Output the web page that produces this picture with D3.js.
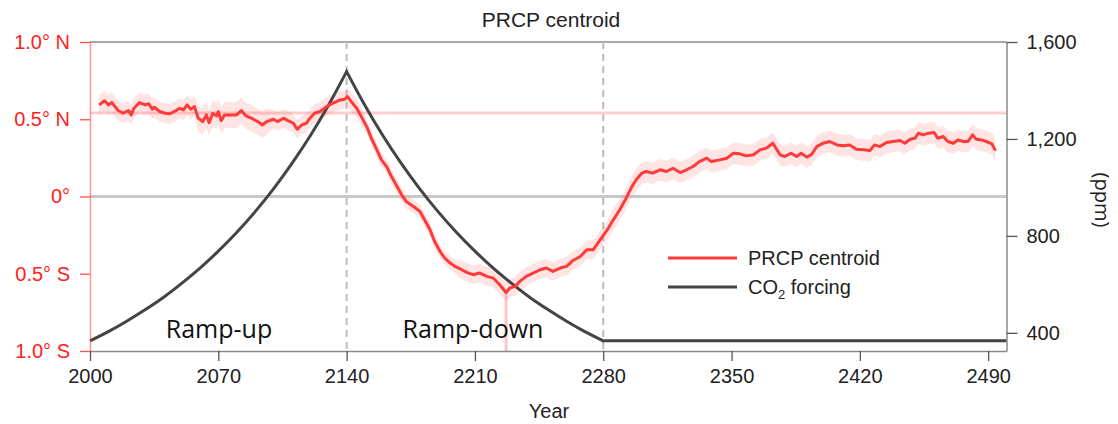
<!DOCTYPE html>
<html>
<head>
<meta charset="utf-8">
<script src="https://cdn.jsdelivr.net/npm/d3@7"></script>
<style>
body{margin:0;background:#fff;}
svg{display:block;font-family:"Liberation Sans",Arial,sans-serif;}
</style>
</head>
<body>
<svg id="chart" width="1118" height="424"></svg>
<script>
// centroid latitude (deg, + = N), 10-yr running mean
const latYears = [2005,2008,2010,2012,2015,2018,2021,2022.5,2024,2027,2030,2032,2034,2035,2038,2041,2043.5,2046,2049,2051,2053,2055,2057,2059,2061.5,2063.5,2065,2067,2069,2070,2071.5,2073.5,2077,2080,2082.5,2085,2088,2091.5,2094,2096.5,2100,2102.5,2105.5,2108,2111,2113,2115.5,2118,2120,2122.5,2125.5,2129,2132.5,2136.5,2139,2140.5,2142.5,2145.5,2148,2151,2153.5,2156.5,2159,2162,2164.5,2167.5,2170,2172.5,2176.5,2180,2182.5,2185.5,2188,2191,2193.5,2196.5,2199,2202,2205.5,2209,2212.5,2216.5,2220,2223.5,2227,2229,2232,2234.5,2238,2242,2245.5,2249,2252.5,2256.5,2260,2263.5,2267.5,2271,2274.5,2278,2282,2285.5,2289,2292.5,2295.5,2298,2301,2303.5,2307,2311,2314.5,2318,2322,2325.5,2329,2332.5,2336.5,2339,2343.5,2347.5,2351,2354.5,2358,2362,2365.5,2369,2372.5,2376.5,2379,2382.5,2385.5,2388,2391,2393.5,2396.5,2400,2403.5,2407.5,2411,2414.5,2418,2422,2425.5,2428,2431,2434.5,2438,2442,2444.5,2447.5,2450,2452,2454.5,2457.5,2460.5,2462.5,2465.5,2468,2471,2473.5,2476.5,2479,2481.5,2483.5,2486.5,2489,2492,2494];
const latValues = [0.593,0.62,0.593,0.608,0.56,0.539,0.556,0.528,0.571,0.608,0.593,0.6,0.565,0.578,0.55,0.539,0.535,0.55,0.571,0.56,0.593,0.565,0.582,0.507,0.485,0.528,0.478,0.539,0.522,0.55,0.491,0.528,0.528,0.528,0.556,0.522,0.507,0.485,0.463,0.485,0.5,0.485,0.507,0.491,0.474,0.435,0.463,0.474,0.507,0.539,0.55,0.582,0.604,0.625,0.63,0.646,0.614,0.571,0.517,0.452,0.377,0.302,0.237,0.19,0.129,0.065,0.011,-0.032,-0.065,-0.097,-0.151,-0.215,-0.291,-0.356,-0.398,-0.431,-0.452,-0.469,-0.491,-0.506,-0.495,-0.517,-0.528,-0.571,-0.621,-0.592,-0.582,-0.549,-0.517,-0.495,-0.474,-0.463,-0.485,-0.463,-0.452,-0.414,-0.388,-0.345,-0.345,-0.285,-0.22,-0.151,-0.086,-0.011,0.061,0.108,0.151,0.162,0.151,0.173,0.162,0.183,0.155,0.173,0.194,0.226,0.248,0.226,0.237,0.248,0.28,0.276,0.263,0.27,0.302,0.313,0.345,0.27,0.259,0.28,0.259,0.28,0.255,0.27,0.323,0.345,0.356,0.334,0.328,0.334,0.306,0.302,0.297,0.334,0.323,0.349,0.356,0.362,0.345,0.371,0.377,0.41,0.399,0.41,0.414,0.377,0.388,0.356,0.345,0.366,0.356,0.356,0.399,0.371,0.366,0.356,0.341,0.297];
// half-width of the shaded spread, by period start
const bandStart = [2005,2058,2100,2150,2200,2285];
const bandHalf = [0.065,0.085,0.06,0.045,0.06,0.07];
// CO2 forcing (ppm), one list per phase
const co2Years = [2000,2010,2020,2030,2040,2050,2060,2070,2080,2090,2100,2110,2120,2130,2140,2150,2160,2170,2180,2190,2200,2210,2220,2230,2240,2250,2260,2270,2280,2500];
const co2Values = [367,405,448,495,546,604,667,737,814,899,993,1097,1211,1338,1478,1338,1211,1097,993,899,814,737,667,604,546,495,448,405,367,367];
const xTicks = [2000,2070,2140,2210,2280,2350,2420,2490];
const latTicks = [-1,-0.5,0,0.5,1];
const latLabels = ['1.0° S','0.5° S','0°','0.5° N','1.0° N'];
const ppmTicks = [400,800,1200,1600];
const phaseYears = [2140,2280];
const baselineLat = 0.54;

const red = '#ff3a3a', dark = '#444', axisGray = '#8a8a8a';
const svg = d3.select('#chart');
const L = 90, R = 1006.5, T = 42, B = 351;

let x = d3.scaleLinear().domain([2000,2500]).range([L,R]);
let yLat = d3.scaleLinear().domain([-1,1]).range([B,T]);
let yPpm = d3.scaleLinear().domain([325,1600]).range([B,T]);

let lat = latYears.map((yr,i)=>({yr:yr, v:latValues[i]}));
let co2 = co2Years.map((yr,i)=>({yr:yr, v:co2Values[i]}));
function halfAt(yr){
    let i = d3.bisectRight(bandStart, yr) - 1;
    return bandHalf[Math.max(0,i)];
}

// frame top
svg.append('line').attr('x1',L).attr('x2',R).attr('y1',T).attr('y2',T)
    .attr('stroke',axisGray).attr('stroke-width',1.5);

// zero line and baseline
svg.append('line').attr('x1',L).attr('x2',R).attr('y1',yLat(0)).attr('y2',yLat(0))
    .attr('stroke','#c8c8c8').attr('stroke-width',3);
svg.append('line').attr('x1',L).attr('x2',R).attr('y1',yLat(baselineLat)).attr('y2',yLat(baselineLat))
    .attr('stroke','rgba(255,90,90,0.3)').attr('stroke-width',3);

// phase lines
svg.selectAll('.phase').data(phaseYears).join('line').attr('class','phase')
    .attr('x1',d=>x(d)).attr('x2',d=>x(d)).attr('y1',T).attr('y2',B)
    .attr('stroke','#bdbdbd').attr('stroke-width',2).attr('stroke-dasharray','7,5');

// minimum marker
let minPt = d3.least(lat, d=>d.v);
svg.append('line').attr('x1',x(minPt.yr)).attr('x2',x(minPt.yr)).attr('y1',yLat(minPt.v)).attr('y2',B)
    .attr('stroke','rgba(255,90,90,0.35)').attr('stroke-width',3);

// spread band
let area = d3.area().x(d=>x(d.yr)).y0(d=>yLat(d.v-halfAt(d.yr))).y1(d=>yLat(d.v+halfAt(d.yr)));
svg.append('path').datum(lat).attr('d',area).attr('fill','rgba(255,120,120,0.2)');

// CO2 curve: smooth within each phase, sharp corners between phases
let co2Line = d3.line().x(d=>x(d.yr)).y(d=>yPpm(d.v)).curve(d3.curveMonotoneX);
let cuts = [2000].concat(phaseYears).concat([2500]);
let co2Path = '';
for(let i=0;i<cuts.length-1;i++){
    let seg = co2.filter(d=>d.yr>=cuts[i] && d.yr<=cuts[i+1]);
    let p = co2Line(seg);
    co2Path += i==0 ? p : 'L' + p.slice(1);
}
svg.append('path').attr('d',co2Path).attr('fill','none')
    .attr('stroke',dark).attr('stroke-width',3).attr('stroke-linejoin','miter');

// centroid curve
let latLine = d3.line().x(d=>x(d.yr)).y(d=>yLat(d.v));
svg.append('path').datum(lat).attr('d',latLine).attr('fill','none')
    .attr('stroke',red).attr('stroke-width',3).attr('stroke-linejoin','round');

// x axis
let gx = svg.append('g').attr('transform',`translate(0,${B})`)
    .call(d3.axisBottom(x).tickValues(xTicks).tickFormat(d3.format('d')).tickSize(10).tickSizeOuter(0).tickPadding(8));
gx.select('.domain').attr('stroke',axisGray).attr('stroke-width',1.5);
gx.selectAll('.tick line').attr('stroke','#555').attr('stroke-width',1.3);
gx.selectAll('.tick text').attr('font-size',20).attr('fill','#222').attr('font-family','"Liberation Sans",Arial,sans-serif');

// left axis
let gl = svg.append('g').attr('transform',`translate(${L},0)`)
    .call(d3.axisLeft(yLat).tickValues(latTicks).tickFormat((d,i)=>latLabels[i]).tickSize(10).tickSizeOuter(0).tickPadding(10));
gl.select('.domain').attr('stroke','rgba(255,60,60,0.55)').attr('stroke-width',1.5);
gl.selectAll('.tick line').attr('stroke','#ff5050').attr('stroke-width',1.3);
gl.selectAll('.tick text').attr('font-size',20).attr('fill','#ff2020').attr('font-family','"Liberation Sans",Arial,sans-serif');

// right axis
let gr = svg.append('g').attr('transform',`translate(${R},0)`)
    .call(d3.axisRight(yPpm).tickValues(ppmTicks).tickFormat(d3.format(',')).tickSize(11).tickSizeOuter(0).tickPadding(9));
gr.select('.domain').attr('stroke',axisGray).attr('stroke-width',1.5);
gr.selectAll('.tick line').attr('stroke','#555').attr('stroke-width',1.3);
gr.selectAll('.tick text').attr('font-size',20).attr('fill','#222').attr('font-family','"Liberation Sans",Arial,sans-serif');

// titles
svg.append('text').attr('x',551).attr('y',27).attr('text-anchor','middle')
    .attr('font-size',21).attr('fill','#222').text('PRCP centroid');
svg.append('text').attr('x',549).attr('y',418).attr('text-anchor','middle')
    .attr('font-size',20).attr('fill','#222').text('Year');
svg.append('text').attr('transform','translate(1095,200) rotate(90)').attr('text-anchor','middle')
    .attr('font-family','"Open Sans",sans-serif').attr('font-size',20).attr('fill','#222').text('(ppm)');

// phase names
svg.append('text').attr('x',219).attr('y',338).attr('text-anchor','middle')
    .attr('font-family','"Open Sans",sans-serif').attr('font-size',25).attr('fill','#111').text('Ramp-up');
svg.append('text').attr('x',473).attr('y',338).attr('text-anchor','middle')
    .attr('font-family','"Open Sans",sans-serif').attr('font-size',25).attr('fill','#111').text('Ramp-down');

// legend
let leg = svg.append('g');
leg.append('line').attr('x1',668).attr('x2',737).attr('y1',258).attr('y2',258).attr('stroke',red).attr('stroke-width',3);
leg.append('text').attr('x',748).attr('y',265).attr('font-size',20).attr('fill','#222').text('PRCP centroid');
leg.append('line').attr('x1',668).attr('x2',737).attr('y1',287).attr('y2',287).attr('stroke',dark).attr('stroke-width',3);
let co2Text = leg.append('text').attr('x',748).attr('y',294).attr('font-size',20).attr('fill','#222');
co2Text.append('tspan').text('CO');
co2Text.append('tspan').attr('font-size',13).attr('dy',5).text('2');
co2Text.append('tspan').attr('dy',-5).text(' forcing');
</script>
</body>
</html>
